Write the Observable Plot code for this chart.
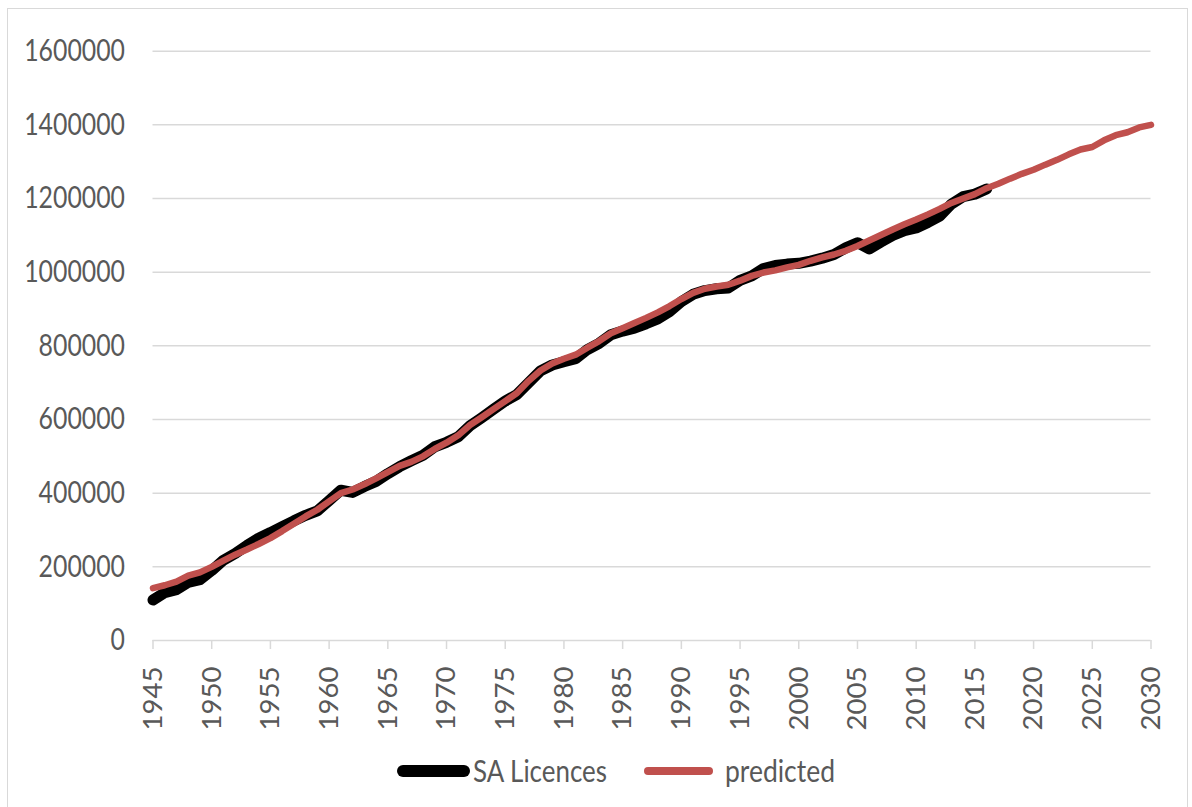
<!DOCTYPE html>
<html>
<head>
<meta charset="utf-8">
<script src="https://cdn.jsdelivr.net/npm/d3@7"></script>
<script src="https://cdn.jsdelivr.net/npm/@observablehq/plot@0.6"></script>
<style>
  html, body { margin: 0; padding: 0; background: #fff; }
  #frame { position: absolute; left: 7px; top: 8px; width: 1181px; height: 830px; border: 1.3px solid #d9d9d9; box-sizing: border-box; }
  #chart { position: absolute; left: 0; top: 0; }
  #legend { position: absolute; left: 0; top: 745px; }
</style>
</head>
<body>
<div id="frame"></div>
<div id="chart"></div>
<div id="legend"></div>
<script>
// Years covered by the recorded licences and by the prediction
const licenceYears = d3.range(1945, 2017);
const predictedYears = d3.range(1945, 2031);

// South Australian licences, 1945–2016
const licences = [
  110000, 130000, 138000, 158000, 165000, 190000, 218000, 236000, 258000, 278000,
  293000, 309000, 325000, 340000, 352000, 380000, 408000, 402000, 418000, 432000,
  453000, 472000, 488000, 503000, 526000, 538000, 553000, 583000, 605000, 628000,
  650000, 668000, 700000, 732000, 748000, 757000, 765000, 790000, 807000, 830000,
  840000, 848000, 860000, 873000, 893000, 920000, 940000, 950000, 955000, 957000,
  978000, 990000, 1010000, 1018000, 1022000, 1024000, 1030000, 1038000, 1048000, 1066000,
  1080000, 1063000, 1082000, 1100000, 1113000, 1120000, 1135000, 1152000, 1185000, 1205000,
  1212000, 1226000
];

// Predicted licences, 1945–2030
const predicted = [
  142000, 150000, 160000, 176000, 185000, 200000, 217000, 233000, 247000, 262000,
  278000, 297000, 317000, 337000, 355000, 378000, 400000, 410000, 424000, 440000,
  457000, 474000, 485000, 500000, 520000, 537000, 557000, 585000, 606000, 628000,
  650000, 672000, 705000, 733000, 752000, 765000, 776000, 795000, 813000, 834000,
  848000, 862000, 876000, 891000, 908000, 927000, 944000, 955000, 961000, 966000,
  977000, 990000, 999000, 1005000, 1013000, 1020000, 1031000, 1040000, 1048000, 1058000,
  1071000, 1086000, 1101000, 1116000, 1130000, 1143000, 1157000, 1172000, 1188000, 1200000,
  1212000, 1228000, 1240000, 1254000, 1267000, 1278000, 1292000, 1305000, 1320000, 1333000,
  1340000, 1358000, 1372000, 1380000, 1393000, 1400000
];

// Axis ticks
const yTicks = [0, 200000, 400000, 600000, 800000, 1000000, 1200000, 1400000, 1600000];
const xTicks = [1945, 1950, 1955, 1960, 1965, 1970, 1975, 1980, 1985, 1990, 1995, 2000, 2005, 2010, 2015, 2020, 2025, 2030];

const seriesNames = ["SA Licences", "predicted"];
const seriesColors = ["#000000", "#C0504D"];

const licenceRows = licenceYears.map((year, i) => ({year, value: licences[i]}));
const predictedRows = predictedYears.map((year, i) => ({year, value: predicted[i]}));

const face = "Lato, 'Open Sans', sans-serif";
const textGrey = "#595959";
const gridGrey = "#d9d9d9";

const chart = Plot.plot({
  width: 1192,
  height: 745,
  marginLeft: 152.5,
  marginRight: 41.5,
  marginTop: 50.7,
  marginBottom: 105,
  x: {domain: [1945, 2030]},
  y: {domain: [0, 1600000]},
  style: {background: "transparent", overflow: "visible", fontFamily: face},
  marks: [
    Plot.gridY(yTicks.slice(1), {stroke: gridGrey, strokeOpacity: 1, strokeWidth: 1.5}),
    Plot.ruleY([0], {stroke: gridGrey, strokeWidth: 1.5}),
    Plot.axisY(yTicks, {
      tickSize: 0, tickPadding: 28, tickFormat: d => String(d),
      fontSize: 30.5, fontFamily: face, fill: textGrey, label: null
    }),
    Plot.axisX(xTicks, {
      tickSize: 9, tickFormat: () => "", stroke: gridGrey, strokeWidth: 1.5, label: null
    }),
    Plot.axisX(xTicks, {
      tickSize: 0, tickPadding: 26, tickRotate: -90, tickFormat: d => String(d),
      fontSize: 27.6, fontFamily: face, fill: textGrey, label: null
    }),
    Plot.line(licenceRows, {x: "year", y: "value", stroke: seriesColors[0], strokeWidth: 11, strokeLinejoin: "round"}),
    Plot.line(predictedRows, {x: "year", y: "value", stroke: seriesColors[1], strokeWidth: 6.5, strokeLinejoin: "round"})
  ]
});
document.getElementById("chart").appendChild(chart);

// The value labels use a condensed setting of the face
chart.querySelectorAll('[aria-label="y-axis tick label"] text').forEach(t => {
  t.setAttribute("textLength", t.textContent.length * 14.4);
  t.setAttribute("lengthAdjust", "spacingAndGlyphs");
});

// Legend below the plot
const legend = d3.select("#legend").append("svg")
  .attr("width", 1192).attr("height", 60)
  .style("font-family", face);
const items = [
  {name: seriesNames[0], color: seriesColors[0], x1: 397, x2: 470, tx: 473, tw: 134, w: 12},
  {name: seriesNames[1], color: seriesColors[1], x1: 644, x2: 713, tx: 725, tw: 110, w: 8}
];
for (const it of items) {
  legend.append("line")
    .attr("x1", it.x1 + it.w / 2).attr("x2", it.x2 - it.w / 2)
    .attr("y1", 26).attr("y2", 26)
    .attr("stroke", it.color).attr("stroke-width", it.w).attr("stroke-linecap", "round");
  legend.append("text")
    .attr("x", it.tx).attr("y", 37)
    .attr("fill", textGrey).attr("font-size", 30)
    .attr("textLength", it.tw).attr("lengthAdjust", "spacingAndGlyphs")
    .text(it.name);
}
</script>
</body>
</html>
